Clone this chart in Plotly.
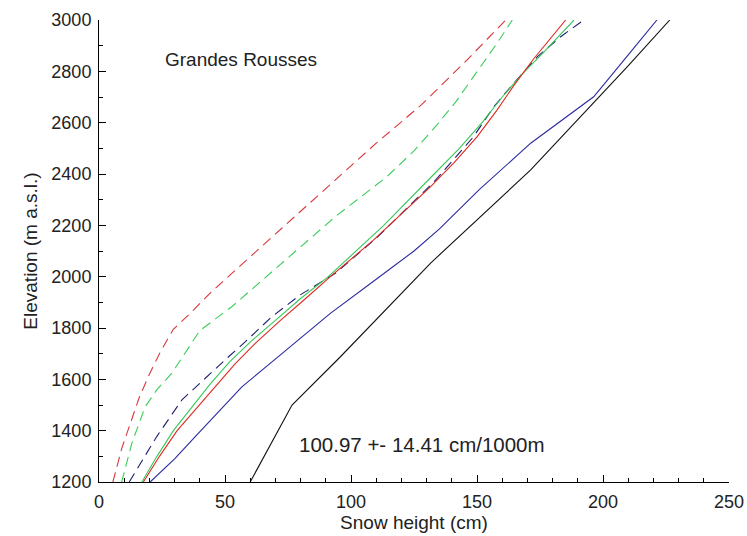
import plotly.graph_objects as go

# ---- data (snow height in cm, elevation in m a.s.l.) ----
red_dash_x = [5.5, 9, 12.5, 16, 20, 24.5, 29.5, 36.5, 44.5, 52.7, 68.6, 93.8, 110, 128, 146, 161.4]
red_dash_y = [1200, 1330, 1430, 1530, 1620, 1710, 1795, 1860, 1940, 2013, 2156, 2377, 2520, 2670, 2844, 3000]

green_dash_x = [9, 13, 18.3, 23, 28.9, 34, 40, 52.7, 72.6, 93.8, 114.3, 125, 134, 141.5, 151.4, 158, 164]
green_dash_y = [1200, 1350, 1493, 1560, 1624, 1700, 1790, 1883, 2052, 2234, 2390, 2490, 2590, 2680, 2818, 2910, 3000]

blue_dash_x = [12, 22.9, 32.9, 43.4, 51.4, 56.7, 68.6, 80, 93.8, 110, 133, 148.6, 156.7, 164.6, 174, 183.2, 192.4]
blue_dash_y = [1200, 1377, 1520, 1617, 1688, 1734, 1844, 1930, 2013, 2150, 2370, 2545, 2662, 2754, 2857, 2935, 3000]

red_x = [17.6, 24, 31, 38.2, 46, 54, 62, 72, 82, 91.8, 109, 131.6, 141, 150, 158, 165, 172.6, 185.2]
red_y = [1200, 1300, 1400, 1481, 1570, 1660, 1740, 1830, 1915, 2000, 2143, 2351, 2445, 2545, 2650, 2750, 2850, 3000]

green_x = [17, 23, 29.5, 36.8, 44, 52, 60, 70, 80, 91, 113, 133, 143, 152, 160, 168, 177, 188.5]
green_y = [1200, 1300, 1400, 1493, 1580, 1670, 1745, 1830, 1915, 2000, 2200, 2400, 2500, 2600, 2700, 2790, 2880, 3000]

blue_x = [20.3, 30, 38.2, 47, 56.7, 64.7, 77.9, 91.8, 110, 125, 135, 151, 171.3, 196.3, 208.3, 221.4]
blue_y = [1200, 1290, 1377, 1470, 1571, 1636, 1742, 1857, 1990, 2100, 2185, 2340, 2520, 2701, 2844, 3000]

black_x = [60, 76.6, 95.8, 131.6, 171.3, 192.5, 209.7, 226.5]
black_y = [1200, 1500, 1688, 2053, 2416, 2638, 2818, 3000]

site_label = "Grandes Rousses"
gradient_label = "100.97 +- 14.41 cm/1000m"

fig = go.Figure()

series = [
    (red_dash_x, red_dash_y, "#d8383a", "10px,6px"),
    (green_dash_x, green_dash_y, "#3ccc5a", "10px,6px"),
    (blue_dash_x, blue_dash_y, "#1e1e6e", "10px,6px"),
    (blue_x, blue_y, "#2a2aa0", "solid"),
    (black_x, black_y, "#111111", "solid"),
    (green_x, green_y, "#36c85a", "solid"),
    (red_x, red_y, "#e02a20", "solid"),
]
for xs, ys, col, dash in series:
    fig.add_trace(go.Scatter(x=xs, y=ys, mode="lines",
                             line=dict(color=col, width=1.1, dash=dash),
                             showlegend=False, hoverinfo="skip"))

FONT = "Liberation Sans, Arial, sans-serif"
fig.add_annotation(x=25.5, y=2845, xref="x", yref="y", text=site_label,
                   showarrow=False, xanchor="left", yanchor="middle",
                   font=dict(family=FONT, size=19, color="#222222"))
fig.add_annotation(x=78.5, y=1346, xref="x", yref="y", text=gradient_label,
                   showarrow=False, xanchor="left", yanchor="middle",
                   font=dict(family=FONT, size=20.5, color="#222222"))

axis_font = dict(family=FONT, size=18, color="#222222")
title_font = dict(family=FONT, size=19, color="#222222")

fig.update_layout(
    width=747, height=536,
    margin=dict(l=99, r=18, t=20, b=54),
    paper_bgcolor="white", plot_bgcolor="white",
    font=dict(family=FONT, color="#222222"),
    xaxis=dict(range=[0, 250], dtick=50, tick0=0, showgrid=False, zeroline=False,
               automargin=False,
               showline=True, linecolor="black", linewidth=1,
               ticks="inside", ticklen=7, tickcolor="black",
               minor=dict(ticks="inside", ticklen=4, dtick=10, tickcolor="black", showgrid=False),
               tickfont=axis_font, ticklabelstandoff=3,
               title=dict(text="Snow height (cm)", font=title_font, standoff=2)),
    yaxis=dict(range=[1200, 3000], dtick=200, tick0=1200, showgrid=False, zeroline=False,
               automargin=False,
               showline=True, linecolor="black", linewidth=1,
               ticks="inside", ticklen=7, tickcolor="black",
               minor=dict(ticks="inside", ticklen=4, dtick=100, tickcolor="black", showgrid=False),
               tickfont=axis_font, ticklabelstandoff=3,
               title=dict(text="Elevation (m a.s.l.)", font=title_font, standoff=8)),
)

fig.write_html("out.html")
